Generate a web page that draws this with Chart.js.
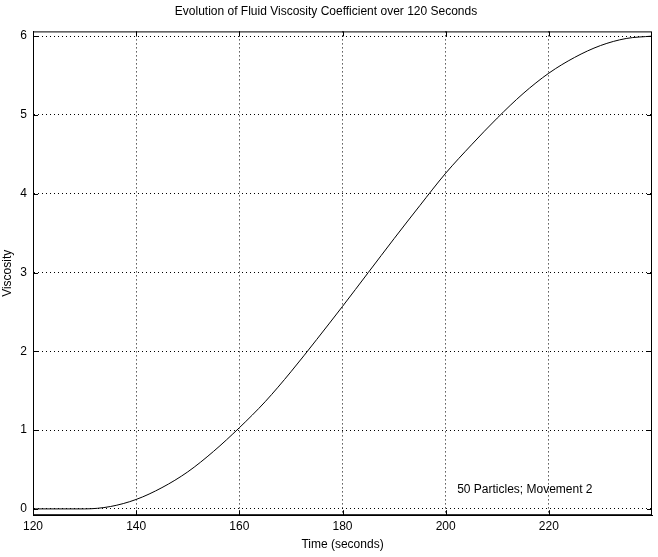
<!DOCTYPE html>
<html><head><meta charset="utf-8">
<script src="https://cdn.jsdelivr.net/npm/chart.js@4"></script>
<style>html,body{margin:0;padding:0;background:#fff}#wrap{width:658px;height:557px}</style>
</head><body><div id="wrap"><canvas id="c"></canvas></div>
<script>
const timeSec = [120,125,130,135,140,145,150,155,160,165,170,175,180,185,190,195,200,205,210,215,220,225,230,235,240];
const viscosity = [0,0,0,0.03,0.12,0.27,0.47,0.73,1.03,1.36,1.74,2.15,2.57,3.0,3.43,3.85,4.26,4.62,4.96,5.27,5.53,5.73,5.88,5.97,6.0];
const xTicks = [120,140,160,180,200,220];
const yTicks = [0,1,2,3,4,5,6];
const note = {x: 203, y: 0.25, text: "50 Particles; Movement 2"};

const FONT = "Liberation Sans, Arial, sans-serif";
Chart.defaults.font.family = FONT;
Chart.defaults.color = "#000";

const frame = {
  id: "frame",
  afterDraw(chart) {
    const {ctx, chartArea: a, scales} = chart;
    ctx.save();
    ctx.strokeStyle = "#000"; ctx.lineWidth = 1;
    ctx.strokeRect(a.left + 0.5, a.top + 0.5, a.right - a.left - 1, a.bottom - a.top - 1);
    // inward tick marks
    ctx.beginPath();
    xTicks.forEach(v => { const px = Math.round(scales.x.getPixelForValue(v)) + 0.5;
      ctx.moveTo(px, a.bottom); ctx.lineTo(px, a.bottom - 5); ctx.moveTo(px, a.top); ctx.lineTo(px, a.top + 5); });
    yTicks.forEach(v => { const py = Math.round(scales.y.getPixelForValue(v)) + 0.5;
      ctx.moveTo(a.left, py); ctx.lineTo(a.left + 5, py); ctx.moveTo(a.right, py); ctx.lineTo(a.right - 5, py); });
    ctx.stroke();
    ctx.fillStyle = "#000"; ctx.font = "12px " + FONT; ctx.textBaseline = "middle";
    ctx.fillText(note.text, scales.x.getPixelForValue(note.x) - 4, scales.y.getPixelForValue(note.y));
    ctx.restore();
  }
};

new Chart(document.getElementById("c"), {
  type: "line",
  data: { labels: timeSec, datasets: [{ data: timeSec.map((t, i) => ({x: t, y: viscosity[i]})),
    borderColor: "#000", borderWidth: 1, pointRadius: 0, cubicInterpolationMode: "monotone", fill: false }] },
  options: {
    responsive: true, maintainAspectRatio: false, animation: false,
    layout: { padding: { left: 0, right: 6, top: 0, bottom: 0 } },
    plugins: { legend: { display: false }, tooltip: { enabled: false },
      title: { display: true, text: "Evolution of Fluid Viscosity Coefficient over 120 Seconds",
        font: { size: 12, weight: "normal" }, padding: { top: 4, bottom: 13 } } },
    scales: {
      x: { type: "linear", min: 120, max: 240,
        afterBuildTicks: s => { s.ticks = xTicks.map(v => ({value: v})); },
        ticks: { font: { size: 12 }, padding: 4, maxRotation: 0 },
        grid: { color: "#000", lineWidth: 1, tickLength: 0 },
        border: { display: true, color: "#000", dash: [1, 3] },
        title: { display: true, text: "Time (seconds)", font: { size: 12 }, padding: { top: 0, bottom: 5 } } },
      y: { min: -0.08, max: 6.06,
        afterBuildTicks: s => { s.ticks = yTicks.map(v => ({value: v})); },
        afterFit: s => { s.width = 33; },
        ticks: { font: { size: 12 }, padding: 6 },
        grid: { color: "#000", lineWidth: 1, tickLength: 0 },
        border: { display: true, color: "#000", dash: [1, 3] },
        title: { display: true, text: "Viscosity", font: { size: 12 }, padding: 0 } }
    }
  },
  plugins: [frame]
});
</script></body></html>
